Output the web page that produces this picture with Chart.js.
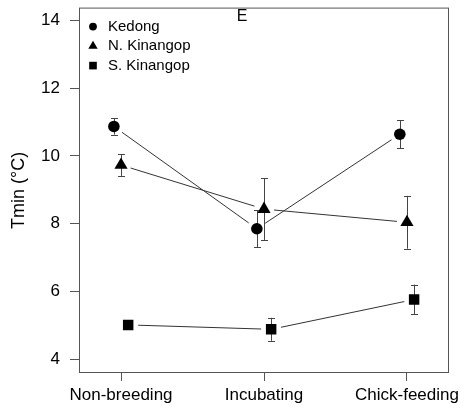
<!DOCTYPE html>
<html>
<head>
<meta charset="utf-8">
<script src="https://cdn.jsdelivr.net/npm/chart.js@4/dist/chart.umd.min.js"></script>
<style>
  html, body { margin: 0; padding: 0; background: #fff; }
  canvas { display: block; }
</style>
</head>
<body>
<canvas id="chart" width="473" height="408"></canvas>
<script>
// Breeding stages on the x axis
const stages = ['Non-breeding', 'Incubating', 'Chick-feeding'];
// Sites (one series each)
const sites = ['Kedong', 'N. Kinangop', 'S. Kinangop'];
// Mean minimum temperature (°C) and standard error per stage
const kedongMean = [10.87, 7.85, 10.64];
const kedongSE   = [0.24, 0.55, 0.42];
const nKinMean   = [9.73, 8.43, 8.04];
const nKinSE     = [0.32, 0.91, 0.78];
const sKinMean   = [5.01, 4.88, 5.76];
const sKinSE     = [0.08, 0.34, 0.44];
// Y axis tick values
const yTicks = [4, 6, 8, 10, 12, 14];
const panelLabel = 'E';
const yTitle = 'Tmin (°C)';

// small horizontal dodge so the three sites don't overlap
const dodge = [-0.05, 0, 0.05];
const shapes = ['circle', 'triangle', 'rect'];
const radii = [5.8, 7.6, 7.4];

function series(means, ses, k) {
  return means.map((m, i) => ({ x: i + 1 + dodge[k], y: m, se: ses[i] }));
}

const datasets = [
  [kedongMean, kedongSE],
  [nKinMean, nKinSE],
  [sKinMean, sKinSE]
].map(([m, s], k) => ({
  label: sites[k],
  data: series(m, s, k),
  pointStyle: shapes[k],
  pointRadius: radii[k],
  pointBackgroundColor: '#000',
  pointBorderColor: '#000',
  pointBorderWidth: 0,
  showLine: false
}));

function drawShape(ctx, style, x, y, r) {
  ctx.beginPath();
  if (style === 'circle') {
    ctx.arc(x, y, r, 0, Math.PI * 2);
  } else if (style === 'triangle') {
    const w = r * Math.sqrt(3) / 2;
    ctx.moveTo(x, y - r);
    ctx.lineTo(x + w, y + r / 2);
    ctx.lineTo(x - w, y + r / 2);
    ctx.closePath();
  } else {
    const h = r * Math.SQRT1_2;
    ctx.rect(x - h, y - h, 2 * h, 2 * h);
  }
  ctx.fill();
}

// Connecting lines (with gaps round the markers), error bars, frame, legend, panel tag
const decorations = {
  id: 'decorations',
  beforeDatasetsDraw(chart) {
    const ctx = chart.ctx;
    const ys = chart.scales.y;
    const gap = 10;
    ctx.save();
    ctx.lineWidth = 1;
    chart.data.datasets.forEach((ds, k) => {
      const pts = chart.getDatasetMeta(k).data;
      // joining segments
      ctx.strokeStyle = '#333';
      for (let i = 0; i < pts.length - 1; i++) {
        const a = pts[i], b = pts[i + 1];
        const dx = b.x - a.x, dy = b.y - a.y;
        const len = Math.hypot(dx, dy);
        if (len <= 2 * gap) continue;
        const ux = dx / len, uy = dy / len;
        ctx.beginPath();
        ctx.moveTo(a.x + ux * gap, a.y + uy * gap);
        ctx.lineTo(b.x - ux * gap, b.y - uy * gap);
        ctx.stroke();
      }
      // error bars
      ctx.strokeStyle = '#444';
      ds.data.forEach((d, i) => {
        const px = Math.round(pts[i].x) + 0.5;
        const yTop = ys.getPixelForValue(d.y + d.se);
        const yBot = ys.getPixelForValue(d.y - d.se);
        ctx.beginPath();
        ctx.moveTo(px, yTop);
        ctx.lineTo(px, yBot);
        ctx.moveTo(px - 3.5, Math.round(yTop) + 0.5);
        ctx.lineTo(px + 3.5, Math.round(yTop) + 0.5);
        ctx.moveTo(px - 3.5, Math.round(yBot) + 0.5);
        ctx.lineTo(px + 3.5, Math.round(yBot) + 0.5);
        ctx.stroke();
      });
    });
    ctx.restore();
  },
  afterDraw(chart) {
    const ctx = chart.ctx;
    const a = chart.chartArea;
    ctx.save();
    // frame
    ctx.strokeStyle = '#555';
    ctx.lineWidth = 1;
    ctx.strokeRect(a.left + 0.5, a.top + 0.5, a.right - a.left - 1, a.bottom - a.top - 1);
    // legend
    ctx.fillStyle = '#000';
    ctx.font = '15px "Liberation Sans", Arial, sans-serif';
    ctx.textBaseline = 'middle';
    ctx.textAlign = 'left';
    const lx = a.left + 14, tx = a.left + 29;
    const legendR = [3.9, 5.4, 5.4];
    sites.forEach((s, k) => {
      const y = a.top + 19 + k * 19.5;
      drawShape(ctx, shapes[k], lx, y, legendR[k]);
      ctx.fillText(s, tx, y);
    });
    // panel tag
    ctx.font = '16px "Liberation Sans", Arial, sans-serif';
    ctx.textAlign = 'center';
    ctx.textBaseline = 'alphabetic';
    ctx.fillText(panelLabel, (a.left + a.right) / 2 - 22, a.top + 13);
    ctx.restore();
  }
};

new Chart(document.getElementById('chart'), {
  type: 'scatter',
  data: { datasets },
  plugins: [decorations],
  options: {
    responsive: false,
    devicePixelRatio: 1,
    animation: false,
    events: [],
    layout: { padding: { left: 0, top: 6, right: 24, bottom: 0 } },
    plugins: {
      legend: { display: false },
      tooltip: { enabled: false }
    },
    scales: {
      x: {
        type: 'linear',
        min: 0.706,
        max: 3.294,
        afterBuildTicks: (s) => { s.ticks = stages.map((_, i) => ({ value: i + 1 })); },
        afterFit: (s) => { s.height = 35; s.paddingLeft = 0; s.paddingRight = 0; },
        ticks: {
          callback: (v, i) => stages[i],
          autoSkip: false,
          maxRotation: 0,
          padding: 4,
          color: '#000',
          font: { family: '"Liberation Sans", Arial, sans-serif', size: 17 }
        },
        grid: { display: true, drawOnChartArea: false, drawTicks: true, tickLength: 8, tickColor: '#555' },
        border: { display: false }
      },
      y: {
        min: 3.59,
        max: 14.38,
        afterBuildTicks: (s) => { s.ticks = yTicks.map(v => ({ value: v })); },
        afterFit: (s) => { s.width = 79; s.paddingTop = 0; s.paddingBottom = 0; },
        ticks: {
          padding: 10,
          color: '#000',
          font: { family: '"Liberation Sans", Arial, sans-serif', size: 17 }
        },
        grid: { display: true, drawOnChartArea: false, drawTicks: true, tickLength: 9, tickColor: '#555' },
        border: { display: false },
        title: {
          display: true,
          text: yTitle,
          color: '#000',
          padding: { top: 8, bottom: 0 },
          font: { family: '"Liberation Sans", Arial, sans-serif', size: 18 }
        }
      }
    }
  }
});
</script>
</body>
</html>
